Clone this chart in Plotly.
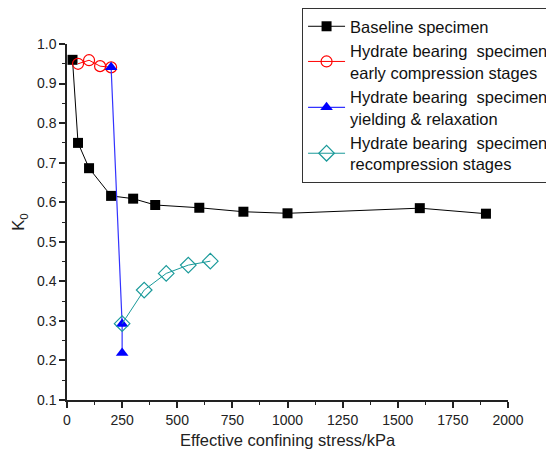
import plotly.graph_objects as go

# Data
base_x = [25, 50, 100, 200, 300, 400, 600, 800, 1000, 1600, 1900]
base_y = [0.960, 0.750, 0.686, 0.616, 0.609, 0.593, 0.586, 0.576, 0.572, 0.585, 0.571]

early_x = [50, 100, 150, 200]
early_y = [0.950, 0.959, 0.944, 0.941]

yield_x = [200, 250, 250]
yield_y = [0.941, 0.292, 0.219]

recomp_x = [250, 350, 450, 550, 650]
recomp_y = [0.293, 0.378, 0.420, 0.441, 0.451]

names = [
    "Baseline specimen",
    "Hydrate bearing\u00a0 specimen<br>early compression stages",
    "Hydrate bearing\u00a0 specimen<br>yielding &amp; relaxation",
    "Hydrate bearing\u00a0 specimen<br>recompression stages",
]

fig = go.Figure()
fig.add_trace(go.Scatter(x=base_x, y=base_y, mode="lines+markers", name=names[0],
                         line=dict(color="black", width=1),
                         marker=dict(symbol="square", size=10, color="black")))
fig.add_trace(go.Scatter(x=early_x, y=early_y, mode="lines+markers", name=names[1],
                         line=dict(color="#ff0000", width=1),
                         marker=dict(symbol="circle-open", size=11, color="#ff0000", line=dict(width=1.2))))
fig.add_trace(go.Scatter(x=yield_x, y=yield_y, mode="lines+markers", name=names[2],
                         line=dict(color="#3333ff", width=1.2),
                         marker=dict(symbol="triangle-up", size=11, color="#0000ff")))
fig.add_trace(go.Scatter(x=recomp_x, y=recomp_y, mode="lines+markers", name=names[3],
                         line=dict(color="#1a9a9a", width=1),
                         marker=dict(symbol="diamond-open", size=12, color="#1a9a9a", line=dict(width=1.2))))

font_family = "Arial, Liberation Sans, sans-serif"
fig.update_layout(
    width=554, height=456,
    margin=dict(l=59, r=54, t=36, b=64, autoexpand=False),
    paper_bgcolor="white", plot_bgcolor="white",
    font=dict(family=font_family, color="#222", size=14),
    showlegend=True,
    legend=dict(x=0.533, y=1.101, xanchor="left", yanchor="top",
                bordercolor="#333", borderwidth=1, bgcolor="white",
                font=dict(size=16.5, color="#111"), itemwidth=37,
                tracegroupgap=0),
    xaxis=dict(range=[0, 2000], tickvals=[0, 250, 500, 750, 1000, 1250, 1500, 1750, 2000],
               showgrid=False, zeroline=False, showline=True, linecolor="#222", linewidth=1.5,
               ticks="outside", ticklen=6, tickwidth=1.5, tickcolor="#222",
               tickfont=dict(size=14),
               minor=dict(dtick=125, ticks="outside", ticklen=3, tickwidth=1.2, tickcolor="#222"),
               title=dict(text="Effective confining stress/kPa", font=dict(size=16.5), standoff=8)),
    yaxis=dict(range=[0.1, 1.0], tickvals=[0.1, 0.2, 0.3, 0.4, 0.5, 0.6, 0.7, 0.8, 0.9, 1.0],
               tickformat=".1f",
               showgrid=False, zeroline=False, showline=True, linecolor="#222", linewidth=1.5,
               ticks="outside", ticklen=6, tickwidth=1.5, tickcolor="#222",
               tickfont=dict(size=14),
               minor=dict(dtick=0.05, ticks="outside", ticklen=3, tickwidth=1.2, tickcolor="#222"),
               title=dict(text="K<sub>0</sub>", font=dict(size=16.5), standoff=8)),
)

fig.write_html("out.html")
